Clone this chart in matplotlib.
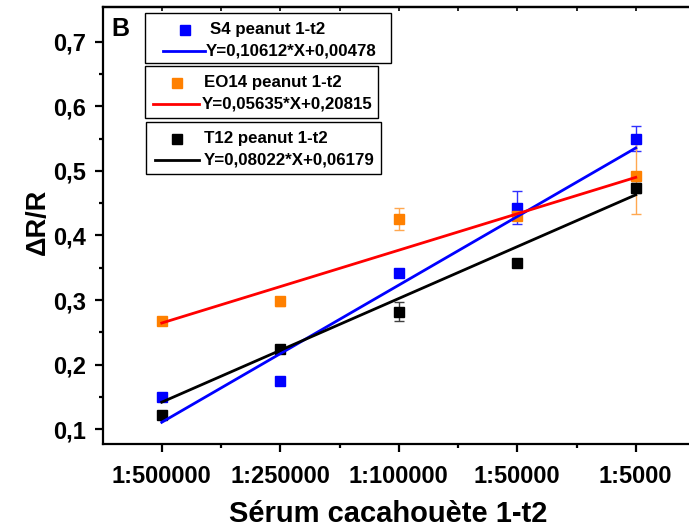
import matplotlib.pyplot as plt
import numpy as np
from matplotlib.lines import Line2D
from matplotlib.patches import Rectangle

plt.rcParams['font.family'] = ['Liberation Sans', 'DejaVu Sans']
plt.rcParams['font.weight'] = 'bold'

# categories on the x axis
dilutions = ['1:500000', '1:250000', '1:100000', '1:50000', '1:5000']
xpos = np.arange(1, 6)

# measured points (dR/R) and error bars
s4 = [0.150, 0.175, 0.342, 0.443, 0.550]
s4_err = [0.005, 0.003, 0.004, 0.026, 0.020]
eo14 = [0.268, 0.298, 0.426, 0.430, 0.492]
eo14_err = [0.004, 0.007, 0.017, 0.005, 0.059]
t12 = [0.122, 0.225, 0.282, 0.357, 0.473]
t12_err = [0.004, 0.004, 0.015, 0.004, 0.008]

# linear fits from the legend (slope, intercept)
s4_fit = (0.10612, 0.00478)
eo14_fit = (0.05635, 0.20815)
t12_fit = (0.08022, 0.06179)

names = ['S4 peanut 1-t2', 'EO14 peanut 1-t2', 'T12 peanut 1-t2']
equations = ['Y=0,10612*X+0,00478', 'Y=0,05635*X+0,20815', 'Y=0,08022*X+0,06179']

W, H = 689, 532
fig = plt.figure(figsize=(W / 100, H / 100), dpi=100)
ax = fig.add_axes([102.5 / W, 1 - 443.8 / H, 592.5 / W, (443.8 - 6.7) / H])

series = [
    (s4, s4_err, s4_fit, '#0000FF', '#0000FF', '#3030FF'),
    (eo14, eo14_err, eo14_fit, '#FF8000', '#FF0000', '#FFA850'),
    (t12, t12_err, t12_fit, '#000000', '#000000', '#404040'),
]

xl = np.array([1, 5])
for y, err, fit, mc, lc, ec in series:
    ax.errorbar(xpos, y, yerr=err, fmt='none', ecolor=ec, elinewidth=1,
                capsize=3.5, capthick=1, zorder=2)
    ax.plot(xpos, y, 's', color=mc, ms=6.5, zorder=3)
for y, err, fit, mc, lc, ec in series:
    ax.plot(xl, fit[0] * xl + fit[1], color=lc, lw=2, zorder=4)

ax.set_xlim(0.5, 5.5)
ax.set_ylim(0.0776, 0.754)
ax.set_xticks(xpos)
ax.set_xticklabels(dilutions)
ax.set_xticks(np.arange(1.5, 5.5, 1), minor=True)
ax.set_yticks([0.1, 0.2, 0.3, 0.4, 0.5, 0.6, 0.7])
ax.set_yticklabels(['0,1', '0,2', '0,3', '0,4', '0,5', '0,6', '0,7'])
ax.set_yticks(np.arange(0.15, 0.75, 0.1), minor=True)

for s in ax.spines.values():
    s.set_linewidth(1.6)
ax.tick_params(axis='both', which='major', labelsize=17, width=1.6, length=6, direction='out')
ax.tick_params(axis='both', which='minor', width=1.6, length=3, direction='out')
ax.tick_params(axis='x', which='major', pad=9)
ax.tick_params(axis='y', which='major', pad=6)

# inward ticks along the top edge
top = ax.secondary_xaxis('top')
top.set_xticks(xpos)
top.set_xticks(np.arange(1.5, 5.5, 1), minor=True)
top.tick_params(which='both', direction='in', length=3, width=1.2, labeltop=False)
top.spines['top'].set_linewidth(1.6)

ax.set_xlabel('Sérum cacahouète 1-t2', fontsize=21, fontweight='bold')
ax.xaxis.set_label_coords(0.483, (H - 514 - (H - 443.8)) / (443.8 - 6.7), transform=ax.transAxes)
ax.xaxis.label.set_va('center')
ax.set_ylabel('ΔR/R', fontsize=19.5, fontweight='bold')
ax.yaxis.set_label_coords((38 - 102.5) / 592.5, (H - 222 - (H - 443.8)) / (443.8 - 6.7))
ax.yaxis.label.set_va('center')

def fx(x):
    return x / W

def fy(y):
    return 1 - y / H

fig.text(fx(111), fy(29), 'B', fontsize=18, fontweight='bold', va='center', ha='left')

# three separate legend boxes, laid out in pixel positions
boxes = [(145, 13, 391, 63), (145, 66, 378, 118), (146, 122, 381, 174)]
marker_x = [185, 177, 177]
line_x = [(163, 205), (153, 199), (155, 199)]
text_x = [(210, 206), (204, 202), (204, 204)]
for i, (y, err, fit, mc, lc, ec) in enumerate(series):
    x0, y0, x1, y1 = boxes[i]
    fig.patches.append(Rectangle((fx(x0), fy(y1)), fx(x1 - x0), (y1 - y0) / H,
                                 transform=fig.transFigure, fill=True, facecolor='white',
                                 edgecolor='black', lw=1, zorder=5))
    r1 = y0 + 16.5
    r2 = y0 + 38
    fig.lines.append(Line2D([fx(marker_x[i])], [fy(r1)], ls='none', marker='s', ms=6.5,
                            color=mc, transform=fig.transFigure, zorder=6))
    fig.lines.append(Line2D([fx(line_x[i][0]), fx(line_x[i][1])], [fy(r2), fy(r2)], lw=2,
                            color=lc, transform=fig.transFigure, zorder=6))
    fig.text(fx(text_x[i][0]), fy(r1), names[i], fontsize=12.2, fontweight='bold',
             va='center', ha='left', zorder=6)
    fig.text(fx(text_x[i][1]), fy(r2), equations[i], fontsize=12.2, fontweight='bold',
             va='center', ha='left', zorder=6)

fig.savefig('out.png', dpi=100)
